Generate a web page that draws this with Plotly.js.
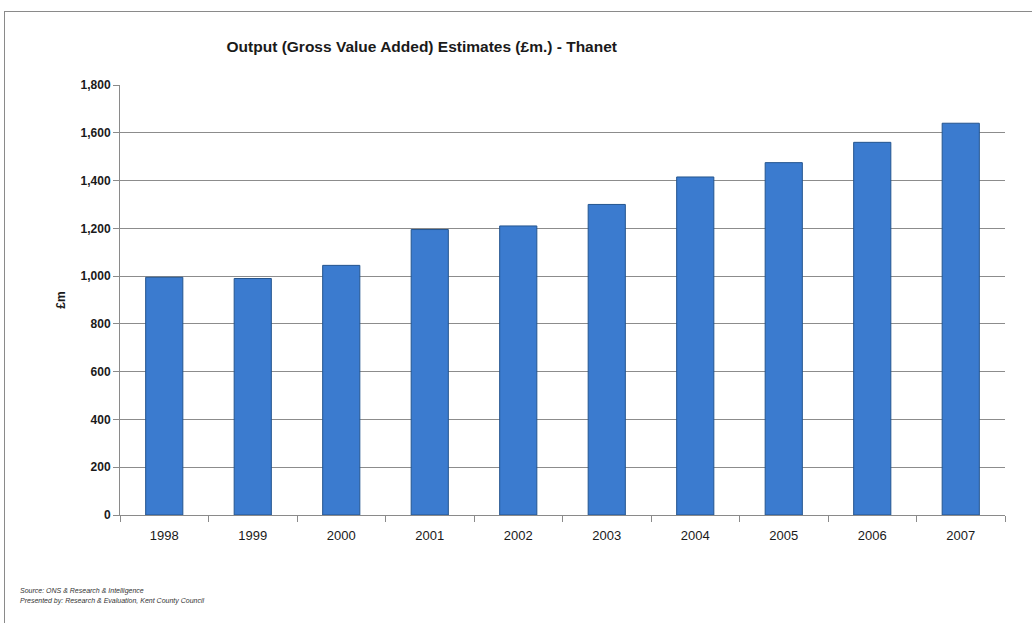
<!DOCTYPE html>
<html>
<head>
<meta charset="utf-8">
<script src="https://cdn.plot.ly/plotly-3.0.1.min.js"></script>
<style>
html,body{margin:0;padding:0;background:#fff;}
#wrap{position:relative;width:1032px;height:623px;overflow:hidden;}
#chart{width:1032px;height:623px;}
#frame{position:absolute;left:4px;top:11px;width:1040px;height:640px;border:1px solid #8a8a8a;pointer-events:none;}
</style>
</head>
<body>
<div id="wrap"><div id="chart"></div><div id="frame"></div></div>
<script>
const years = ["1998","1999","2000","2001","2002","2003","2004","2005","2006","2007"];
const gva = [995, 990, 1045, 1195, 1210, 1300, 1415, 1475, 1560, 1640];
const yTicks = [0,200,400,600,800,1000,1200,1400,1600,1800];
const yTickLabels = ["0","200","400","600","800","1,000","1,200","1,400","1,600","1,800"];
const titleText = "Output (Gross Value Added) Estimates (£m.) - Thanet";
const yTitle = "£m";
const sourceLines = ["Source: ONS & Research & Intelligence","Presented by: Research & Evaluation, Kent County Council"];

const font = "Liberation Sans, Arial, sans-serif";

const trace = {
  type: "bar",
  x: years,
  y: gva,
  width: 0.42,
  marker: {
    color: "#3b7bcf",
    line: {color: "#24558f", width: 1}
  },
  hoverinfo: "x+y"
};

const layout = {
  width: 1032, height: 623,
  margin: {l: 120, r: 27, t: 85, b: 108},
  paper_bgcolor: "#fff",
  plot_bgcolor: "#fff",
  showlegend: false,
  title: {
    text: "<b>" + titleText + "</b>",
    x: 0.341, xref: "paper", xanchor: "center",
    y: 0.925, yref: "container", yanchor: "middle",
    font: {family: font, size: 15.5, color: "#1a1a1a"}
  },
  xaxis: {
    type: "category",
    showline: true, linecolor: "#8a8a8a", linewidth: 1,
    ticks: "outside", tickson: "boundaries", ticklen: 6, tickcolor: "#8a8a8a",
    ticklabelstandoff: 8,
    tickfont: {family: font, size: 13, color: "#1a1a1a"},
    showgrid: false
  },
  yaxis: {
    range: [0, 1800],
    tickvals: yTicks, ticktext: yTickLabels.map(t => "<b>" + t + "</b>"),
    showline: true, linecolor: "#8a8a8a", linewidth: 1,
    ticks: "outside", ticklen: 6, tickcolor: "#8a8a8a",
    showgrid: true, gridcolor: "#8c8c8c", gridwidth: 1,
    zeroline: false,
    tickfont: {family: font, size: 12, color: "#1a1a1a"},
    title: {text: "<b>" + yTitle + "</b>", standoff: 12, font: {family: font, size: 12, color: "#1a1a1a"}}
  },
  annotations: [
    {text: "<i>" + sourceLines[0] + "</i>", xref: "paper", yref: "paper", x: -0.115, y: -0.177, xanchor: "left", yanchor: "middle", showarrow: false, font: {family: font, size: 7, color: "#333"}},
    {text: "<i>" + sourceLines[1] + "</i>", xref: "paper", yref: "paper", x: -0.115, y: -0.2, xanchor: "left", yanchor: "middle", showarrow: false, font: {family: font, size: 7, color: "#333"}}
  ]
};

Plotly.newPlot("chart", [trace], layout, {displayModeBar: false, staticPlot: true});
</script>
</body>
</html>
